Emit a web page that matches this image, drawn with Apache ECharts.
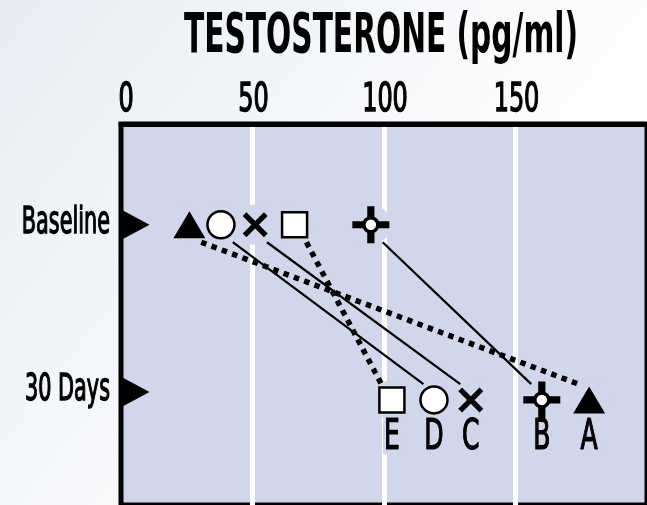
<!DOCTYPE html>
<html>
<head>
<meta charset="utf-8">
<script src="https://cdn.jsdelivr.net/npm/echarts@6/dist/echarts.min.js"></script>
<style>html,body{margin:0;padding:0;}#c{width:647px;height:505px;}</style>
</head>
<body>
<div id="c"></div>
<script>
// ---- data ----
const categories = ['Baseline', '30 Days'];
const subjects = ['A', 'B', 'C', 'D', 'E'];
const baselineValues = [26, 95, 51, 38, 66];
const day30Values = [178, 160, 133, 119, 103];
const xTicks = [0, 50, 100, 150];
const lineKinds = ['dotted', 'solid', 'solid', 'solid', 'dotted'];
const titleText = 'TESTOSTERONE (pg/ml)';

// ---- styling ----
const FONT = '"DejaVu Sans Condensed", "Liberation Sans Narrow", sans-serif';
const LAV = '#d2d6eb';
const INK = '#000';
const PLUS = 'path://M14.5,0 L21.5,0 L21.5,14.5 L36,14.5 L36,21.5 L21.5,21.5 L21.5,36 L14.5,36 L14.5,21.5 L0,21.5 L0,14.5 L14.5,14.5 Z';
const XMARK = 'path://M3,0 L10,7 L17,0 L20,3 L13,10 L20,17 L17,20 L10,13 L3,20 L0,17 L7,10 L0,3 Z';
const RIGHT_TRI = 'path://M0,0 L27,14.5 L0,29 Z';
const markerStyles = {
  A: { symbol: 'triangle', symbolSize: [32, 27], itemStyle: { color: INK, opacity: 1 } },
  B: { symbol: PLUS, symbolSize: 37, itemStyle: { color: INK, opacity: 1 } },
  C: { symbol: XMARK, symbolSize: 25, itemStyle: { color: INK, opacity: 1 } },
  D: { symbol: 'circle', symbolSize: 27, itemStyle: { color: '#fff', borderColor: INK, borderWidth: 2.5, opacity: 1 } },
  E: { symbol: 'rect', symbolSize: 25, itemStyle: { color: '#fff', borderColor: INK, borderWidth: 2.5, opacity: 1 } }
};
const catMarkOffsetY = [0, -8];
const lineStartShift = 4.5, lineEndShift = 4, lineStartY = 0.1, lineEndY = 0.91;
const Y_MIN = -0.575, Y_MAX = 1.6;

const series = [];
// halos behind markers (break the white grid lines like the original)
series.push({
  type: 'scatter', z: 2, silent: true,
  symbol: 'circle', symbolSize: 40, itemStyle: { color: LAV, opacity: 1 },
  data: baselineValues.map(v => [v, 0]).concat(day30Values.map(v => [v, 1]))
});
// connecting lines
subjects.forEach((s, i) => {
  const dotted = lineKinds[i] === 'dotted';
  series.push({
    type: 'line', z: 4, silent: true, symbol: 'none',
    lineStyle: dotted
      ? { color: INK, width: 5.5, type: [5.5, 5.5], cap: 'butt' }
      : { color: INK, width: 2.2, type: 'solid' },
    data: [
      [baselineValues[i] + lineStartShift, lineStartY],
      [day30Values[i] - lineEndShift, lineEndY]
    ]
  });
});
// markers
subjects.forEach((s, i) => {
  const st = markerStyles[s];
  series.push(Object.assign({
    type: 'scatter', z: 5, name: s,
    data: [[baselineValues[i], 0], [day30Values[i], 1]]
  }, st));
  if (s === 'B') {
    series.push({
      type: 'scatter', z: 6, symbol: 'circle', symbolSize: 14,
      itemStyle: { color: '#fff', borderColor: INK, borderWidth: 3.5, opacity: 1 },
      data: [[baselineValues[i], 0], [day30Values[i], 1]]
    });
  }
});
// category marks on the left axis
series.push({
  type: 'scatter', z: 7, silent: true,
  symbol: RIGHT_TRI, symbolSize: [27, 29], itemStyle: { color: INK, opacity: 1 },
  data: categories.map((c, i) => ({ name: c, value: [0, i], symbolOffset: [15, catMarkOffsetY[i]] }))
});

const chart = echarts.init(document.getElementById('c'), null, { renderer: 'canvas' });
chart.setOption({
  animation: false,
  backgroundColor: {
    type: 'linear', x: 0, y: 0, x2: 0.7, y2: 0.7,
    colorStops: [{ offset: 0, color: '#e8edf3' }, { offset: 1, color: '#ffffff' }]
  },
  grid: {
    left: 121, right: 0, top: 124, bottom: -8, show: true,
    backgroundColor: LAV, borderColor: INK, borderWidth: 5
  },
  xAxis: {
    type: 'value', position: 'top', min: 0, max: 200, interval: 50,
    axisLine: { show: true, onZero: false, lineStyle: { color: INK, width: 5 } },
    axisTick: { show: false },
    axisLabel: { show: false },
    splitLine: { show: true, showMinLine: false, showMaxLine: false, lineStyle: { color: '#fff', width: 5 } }
  },
  yAxis: {
    type: 'value', inverse: true, min: Y_MIN, max: Y_MAX,
    axisLine: { show: false }, axisTick: { show: false },
    axisLabel: { show: false }, splitLine: { show: false }
  },
  series: series
});

// condensed text (title, tick labels, category labels, subject letters) placed through the axes' scales
const px = (x, y) => chart.convertToPixel({ gridIndex: 0 }, [x, y]);
const graphics = [{
  type: 'text', x: 381, y: 38, scaleX: 0.824, scaleY: 1.38, silent: true, z: 100,
  style: {
    text: titleText, font: 'bold 40px ' + FONT,
    fill: INK, align: 'center', verticalAlign: 'middle'
  }
}];
xTicks.forEach(t => {
  const p = px(t, Y_MIN);
  graphics.push({
    type: 'text', x: p[0] + (t === 0 ? 5 : 1), y: 101, scaleX: 0.7, scaleY: 1.05, silent: true, z: 100,
    style: { text: String(t), font: '38px ' + FONT, fill: INK, stroke: INK, lineWidth: 1.3,
      align: 'center', verticalAlign: 'middle' }
  });
});
categories.forEach((c, i) => {
  const p = px(0, i);
  graphics.push({
    type: 'text', x: p[0] - 11, y: p[1] + catMarkOffsetY[i] - 1, scaleX: 0.68, scaleY: 1.08, silent: true, z: 100,
    style: { text: c, font: '34px ' + FONT, fill: INK, stroke: INK, lineWidth: 1.2,
      align: 'right', verticalAlign: 'middle' }
  });
});
subjects.forEach((s, i) => {
  const p = px(day30Values[i], 1);
  const base = { type: 'text', x: p[0], y: p[1] + 38, scaleX: 0.68, scaleY: 1.04, silent: true };
  // lavender halo that interrupts the grid line, then the letter itself
  graphics.push(Object.assign({}, base, { z: 3, style: {
    text: s, font: '41px ' + FONT, fill: LAV, stroke: LAV, lineWidth: 10,
    align: 'center', verticalAlign: 'middle' } }));
  graphics.push(Object.assign({}, base, { z: 8, style: {
    text: s, font: '41px ' + FONT, fill: INK, stroke: INK, lineWidth: 1.2,
    align: 'center', verticalAlign: 'middle' } }));
});
chart.setOption({ graphic: graphics });
</script>
</body>
</html>
